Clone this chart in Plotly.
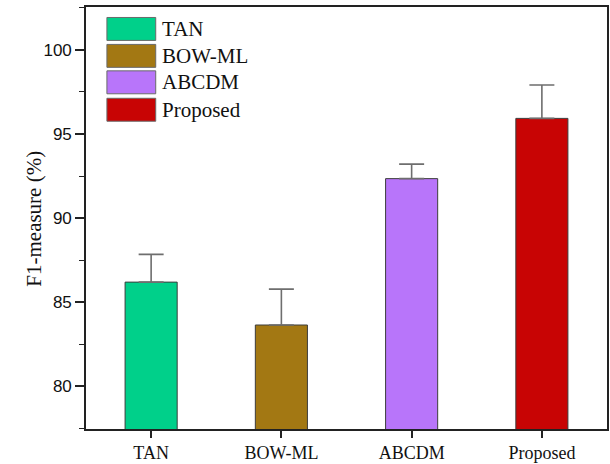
import plotly.graph_objects as go

# F1-measure per method, with the upper error margin
methods = ["TAN", "BOW-ML", "ABCDM", "Proposed"]
f1_values = [86.2, 83.65, 92.35, 95.93]
f1_errors = [1.65, 2.13, 0.86, 1.98]

bar_colors = ["#00D08A", "#A37813", "#B875FA", "#C80404"]

SERIF = "Liberation Serif, Times New Roman, serif"
SANS = "Liberation Sans, Arial, sans-serif"

fig = go.Figure()
for name, val, err, col in zip(methods, f1_values, f1_errors, bar_colors):
    fig.add_trace(go.Bar(
        x=[name], y=[val], name=name,
        marker=dict(color=col, line=dict(color="#3c3c3c", width=1)),
        width=0.4,
        error_y=dict(type="data", array=[err], arrayminus=[0], symmetric=False,
                     color="#6e6e6e", thickness=1.6, width=12.5),
        showlegend=False,
    ))

# Legend drawn as swatches + labels in the upper-left corner of the plot area
plot_left, plot_right, plot_top, plot_bottom = 86, 609, 7, 430
pw, ph = plot_right - plot_left, plot_bottom - plot_top


def px_x(v):
    return (v - plot_left) / pw


def px_y(v):
    return 1 - (v - plot_top) / ph


row_tops = [17.5, 44.5, 71, 98.5]
sw_h = 23
for name, col, top in zip(methods, bar_colors, row_tops):
    fig.add_shape(type="rect", xref="paper", yref="paper",
                  x0=px_x(107), x1=px_x(156), y0=px_y(top + sw_h), y1=px_y(top),
                  fillcolor=col, line=dict(color="#6a6a6a", width=1))
    fig.add_annotation(xref="paper", yref="paper", x=px_x(160), y=px_y(top + sw_h / 2),
                       text=name, showarrow=False, xanchor="left", yanchor="middle",
                       font=dict(family=SERIF, size=21, color="#111"))

# Y-axis title, placed close to the tick labels
fig.add_annotation(xref="paper", yref="paper", x=px_x(34), y=px_y(219),
                   text="F1-measure (%)", textangle=-90, showarrow=False,
                   xanchor="center", yanchor="middle",
                   font=dict(family=SERIF, size=21, color="#111"))

fig.update_layout(
    width=610, height=464,
    margin=dict(l=plot_left, r=610 - plot_right, t=plot_top, b=464 - plot_bottom),
    paper_bgcolor="white", plot_bgcolor="white",
    bargap=0.6,
    xaxis=dict(
        range=[-0.5, 3.5], showline=True, mirror=True, linecolor="#222", linewidth=1.6,
        ticks="outside", ticklen=7, tickwidth=1.6, tickcolor="#222",
        tickfont=dict(family=SERIF, size=18, color="#111"), showgrid=False,
        zeroline=False,
    ),
    yaxis=dict(
        range=[77.47, 102.55], showline=True, mirror=True, linecolor="#222", linewidth=1.6,
        tickvals=[80, 85, 90, 95, 100], ticks="outside", ticklen=9, tickwidth=1.6,
        tickcolor="#222", tickfont=dict(family=SANS, size=17, color="#111"),
        minor=dict(dtick=2.5, tick0=77.5, ticks="outside", ticklen=5, tickwidth=1.3,
                   tickcolor="#222", showgrid=False),
        showgrid=False, zeroline=False,
    ),
)

fig.write_html("out.html")
